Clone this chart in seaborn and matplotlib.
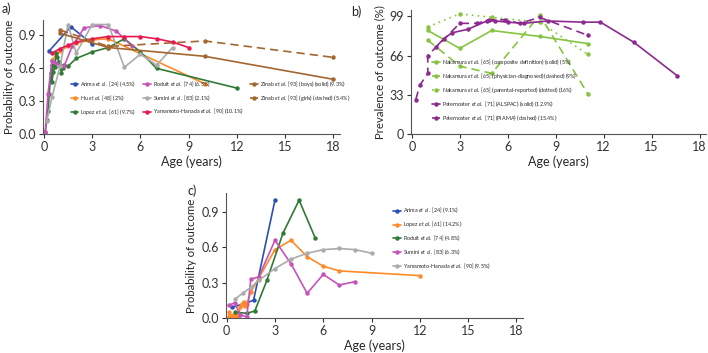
import matplotlib
matplotlib.use("Agg")
import matplotlib.pyplot as plt
import seaborn as sns

# ---- panel a data ----
arima_a_x = [0.33, 1.67, 3]
arima_a_y = [0.76, 0.98, 0.82]
hu_a_x = [0.5, 0.75, 1.0, 1.5, 2, 3, 4, 10]
hu_a_y = [0.68, 0.72, 0.76, 0.80, 0.83, 0.86, 0.87, 0.46]
lopez_a_x = [0.08, 0.17, 0.25, 0.33, 0.42, 0.5, 0.5, 0.58, 0.67, 0.75, 0.83, 0.92,
             1.0, 1.08, 1.17, 1.25, 1.5, 2, 3, 4, 5, 6, 7, 12]
lopez_a_y = [0.02, 0.13, 0.21, 0.37, 0.56, 0.63, 0.48, 0.57, 0.61, 0.74, 0.70, 0.66,
             0.63, 0.56, 0.60, 0.63, 0.62, 0.69, 0.75, 0.79, 0.87, 0.75, 0.60, 0.42]
roduit_a_x = [0.08, 0.25, 0.5, 0.75, 1.0, 1.25, 1.75, 2.5, 3.5, 4.5, 5.5]
roduit_a_y = [0.02, 0.37, 0.67, 0.65, 0.62, 0.62, 0.80, 0.97, 0.99, 0.94, 0.80]
sumini_a_x = [0.17, 0.5, 1.0, 1.5, 2.0, 3.0, 4.0, 5.0, 6.0, 7.0, 8.0]
sumini_a_y = [0.12, 0.34, 0.62, 1.0, 0.74, 1.0, 1.0, 0.61, 0.73, 0.63, 0.79]
zinab_boys_x = [1, 4, 10, 18]
zinab_boys_y = [0.92, 0.79, 0.71, 0.50]
zinab_girls_x = [1, 4, 10, 18]
zinab_girls_y = [0.95, 0.80, 0.85, 0.70]
yamamoto_a_x = [0.5, 1, 1.5, 2, 3, 4, 5, 6, 7, 8, 9]
yamamoto_a_y = [0.74, 0.78, 0.81, 0.84, 0.87, 0.89, 0.89, 0.89, 0.87, 0.84, 0.79]

# ---- panel b data ----
nak_comp_x = [1, 3, 5, 8, 11]
nak_comp_y = [87, 72, 87, 82, 76]
nak_phys_x = [1, 3, 5, 8, 11]
nak_phys_y = [79, 57, 51, 100, 34]
nak_par_x = [1, 3, 5, 8, 11]
nak_par_y = [90, 101, 98, 94, 67]
pat_alspac_x = [1.5, 2, 2.5, 3.5, 4.7, 5.2, 6.0, 7.0, 8.5, 10.7, 11.8, 13.9, 16.6]
pat_alspac_y = [73, 80, 85, 88, 95, 95, 94, 93, 95, 94, 94, 77, 49]
pat_piama_x = [0.25, 0.5, 1.0, 1.0, 3.0, 4.1, 4.8, 5.8, 6.75, 8.0, 11.0]
pat_piama_y = [29, 41, 51, 66, 93, 93, 96, 96, 93, 98, 83]

# ---- panel c data ----
arima_c_x = [0.33, 1.67, 3]
arima_c_y = [0.09, 0.15, 1.0]
lopez_c_x = [0.08, 0.17, 0.25, 0.33, 0.42, 0.5, 0.58, 0.67, 0.75, 0.83, 0.92, 1.0,
             1.08, 1.17, 1.25, 1.5, 2, 3, 4, 5, 6, 7, 12]
lopez_c_y = [0.0, 0.05, 0.02, 0.0, 0.03, 0.01, 0.04, 0.02, 0.03, 0.09, 0.11, 0.13,
             0.14, 0.10, 0.12, 0.22, 0.34, 0.58, 0.66, 0.52, 0.44, 0.40, 0.36]
roduit_c_x = [0.5, 1.25, 1.75, 2.5, 3.5, 4.5, 5.5]
roduit_c_y = [0.05, 0.04, 0.06, 0.32, 0.72, 1.0, 0.68]
sumini_c_x = [0.17, 0.5, 0.83, 1.25, 1.5, 2, 3, 4, 5, 6, 7, 8]
sumini_c_y = [0.11, 0.13, 0.03, 0.01, 0.33, 0.35, 0.66, 0.46, 0.21, 0.37, 0.28, 0.31]
yamamoto_c_x = [0.5, 1, 1.5, 2, 3, 4, 5, 6, 7, 8, 9]
yamamoto_c_y = [0.16, 0.21, 0.26, 0.32, 0.42, 0.50, 0.55, 0.58, 0.59, 0.58, 0.55]

age_ticks = [0, 3, 6, 9, 12, 15, 18]
prob_ticks = [0.0, 0.3, 0.6, 0.9]
prev_ticks = [0, 33, 66, 99]

BLUE = "#2c4fb4"
ORANGE = "#ff8a2a"
GREEN = "#2f7a35"
ORCHID = "#c852bc"
GREY = "#ababab"
BROWN = "#a3662f"
CRIMSON = "#e8184e"
LIME = "#86c440"
PURPLE = "#8c2a8f"

sns.set_style("ticks")
plt.rcParams["font.family"] = ["Lato", "DejaVu Sans"]
plt.rcParams["mathtext.fontset"] = "custom"
plt.rcParams["mathtext.rm"] = "Lato"
plt.rcParams["mathtext.it"] = "Lato:italic"

ETAL = r"$\it{et\ al.}$"

fig = plt.figure(figsize=(7.08, 3.53), dpi=100)
ax_a = fig.add_axes([0.061, 0.620, 0.419, 0.323])
ax_b = fig.add_axes([0.5805, 0.620, 0.4167, 0.351])
ax_c = fig.add_axes([0.319, 0.099, 0.4195, 0.354])


def draw(ax, x, y, color, label, ls="-"):
    sns.lineplot(x=x, y=y, ax=ax, color=color, marker="o", markersize=3.2,
                 markeredgewidth=0, linewidth=1.2, linestyle=ls,
                 estimator=None, sort=False, label=label)


def style(ax, ylim, yticks, ylabel):
    ax.set_xlim(-0.05, 18.4)
    ax.set_ylim(*ylim)
    ax.set_xticks(age_ticks)
    ax.set_yticks(yticks)
    if isinstance(yticks[0], float):
        ax.set_yticklabels([f"{t:.1f}" for t in yticks])
    ax.set_xlabel("Age (years)", fontsize=9, labelpad=2)
    ax.set_ylabel(ylabel, fontsize=8.2, labelpad=3)
    ax.tick_params(labelsize=9, length=3, width=0.8, pad=2, colors="#333333")
    for s in ["left", "bottom"]:
        ax.spines[s].set_linewidth(0.8)
        ax.spines[s].set_color("#555555")
    sns.despine(ax=ax)


leg_kw = dict(fontsize=3.9, frameon=False, handlelength=1.4, handletextpad=0.4,
              labelspacing=0.75, borderpad=0.2)

# panel a
draw(ax_a, arima_a_x, arima_a_y, BLUE, f"Arima {ETAL} [24] (4.5%)")
draw(ax_a, hu_a_x, hu_a_y, ORANGE, f"Hu {ETAL} [48] (2%)")
draw(ax_a, lopez_a_x, lopez_a_y, GREEN, f"Lopez {ETAL} [61] (9.7%)")
draw(ax_a, roduit_a_x, roduit_a_y, ORCHID, f"Roduit {ETAL} [74] (6.5%)")
draw(ax_a, sumini_a_x, sumini_a_y, GREY, f"Sumini {ETAL} [83] (2.1%)")
draw(ax_a, yamamoto_a_x, yamamoto_a_y, CRIMSON, f"Yamamoto-Hanada {ETAL} [90] (10.1%)")
draw(ax_a, zinab_boys_x, zinab_boys_y, BROWN, f"Zinab {ETAL} [93] (boys) (solid) (9.3%)")
draw(ax_a, zinab_girls_x, zinab_girls_y, BROWN, f"Zinab {ETAL} [93] (girls) (dashed) (5.4%)",
     ls=(0, (5, 3)))
style(ax_a, (0, 1.04), prob_ticks, "Probability of outcome")
ax_a.legend(ncol=3, loc="lower left", bbox_to_anchor=(0.08, 0.12),
            columnspacing=1.2, **leg_kw)

# panel b
draw(ax_b, nak_comp_x, nak_comp_y, LIME, f"Nakamura {ETAL} [65] (composite definition) (solid) (5%)")
draw(ax_b, nak_phys_x, nak_phys_y, LIME, f"Nakamura {ETAL} [65] (physician-diagnosed) (dashed) (9%)",
     ls=(0, (5, 3)))
draw(ax_b, nak_par_x, nak_par_y, LIME, f"Nakamura {ETAL} [65] (parental-reported) (dotted) (16%)",
     ls=(0, (1, 2.5)))
draw(ax_b, pat_alspac_x, pat_alspac_y, PURPLE, f"Paternoster {ETAL} [71] (ALSPAC) (solid) (12.9%)")
draw(ax_b, pat_piama_x, pat_piama_y, PURPLE, f"Paternoster {ETAL} [71] (PIAMA) (dashed) (15.4%)",
     ls=(0, (5, 3)))
style(ax_b, (0, 104), prev_ticks, "Prevalence of outcome (%)")
ax_b.legend(ncol=1, loc="lower left", bbox_to_anchor=(0.06, 0.06), **leg_kw)

# panel c
draw(ax_c, arima_c_x, arima_c_y, BLUE, f"Arima {ETAL} [24] (9.1%)")
draw(ax_c, lopez_c_x, lopez_c_y, ORANGE, f"Lopez {ETAL} [61] (14.2%)")
draw(ax_c, roduit_c_x, roduit_c_y, GREEN, f"Roduit {ETAL} [74] (4.8%)")
draw(ax_c, sumini_c_x, sumini_c_y, ORCHID, f"Sumini {ETAL} [83] (6.3%)")
draw(ax_c, yamamoto_c_x, yamamoto_c_y, GREY, f"Yamamoto-Hanada {ETAL} [90] (9.5%)")
style(ax_c, (0, 1.06), prob_ticks, "Probability of outcome")
ax_c.legend(ncol=1, loc="upper left", bbox_to_anchor=(0.55, 0.93), **leg_kw)

fig.text(0.002, 0.992, "a)", fontsize=9, va="top", ha="left")
fig.text(0.496, 0.985, "b)", fontsize=9, va="top", ha="left")
fig.text(0.265, 0.478, "c)", fontsize=9, va="top", ha="left")

fig.savefig("out.png", dpi=100)
